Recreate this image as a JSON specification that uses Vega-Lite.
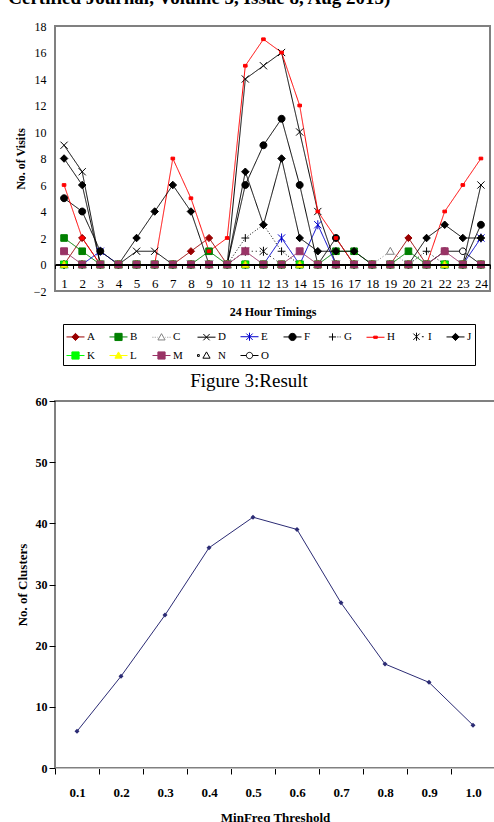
{
 "$schema": "https://vega.github.io/schema/vega-lite/v6.json",
 "background": "white",
 "padding": {"left": 8, "right": 0, "top": -11, "bottom": 0},
 "title": {"text": "Certified Journal, Volume 5, Issue 8, Aug 2015)", "anchor": "start", "font": "Liberation Serif", "fontSize": 19, "fontWeight": "bold", "color": "black", "offset": 11, "dx": -5},
 "config": {"view": {"stroke": "#808080", "strokeWidth": 2}, "font": "Liberation Serif", "axis": {"labelColor": "black", "titleColor": "black", "labelFont": "Liberation Serif", "titleFont": "Liberation Serif"}},
 "spacing": 52,
 "datasets": {
  "visits": [
   {"series":"A","hour":1,"visits":0},{"series":"A","hour":2,"visits":2},{"series":"A","hour":3,"visits":0},{"series":"A","hour":4,"visits":0},{"series":"A","hour":5,"visits":0},{"series":"A","hour":6,"visits":0},{"series":"A","hour":7,"visits":0},{"series":"A","hour":8,"visits":1},{"series":"A","hour":9,"visits":2},{"series":"A","hour":10,"visits":0},{"series":"A","hour":11,"visits":0},{"series":"A","hour":12,"visits":0},{"series":"A","hour":13,"visits":0},{"series":"A","hour":14,"visits":0},{"series":"A","hour":15,"visits":0},{"series":"A","hour":16,"visits":0},{"series":"A","hour":17,"visits":0},{"series":"A","hour":18,"visits":0},{"series":"A","hour":19,"visits":0},{"series":"A","hour":20,"visits":2},{"series":"A","hour":21,"visits":0},{"series":"A","hour":22,"visits":0},{"series":"A","hour":23,"visits":0},{"series":"A","hour":24,"visits":0},
   {"series":"B","hour":1,"visits":2},{"series":"B","hour":2,"visits":1},{"series":"B","hour":3,"visits":0},{"series":"B","hour":4,"visits":0},{"series":"B","hour":5,"visits":0},{"series":"B","hour":6,"visits":0},{"series":"B","hour":7,"visits":0},{"series":"B","hour":8,"visits":0},{"series":"B","hour":9,"visits":1},{"series":"B","hour":10,"visits":0},{"series":"B","hour":11,"visits":0},{"series":"B","hour":12,"visits":0},{"series":"B","hour":13,"visits":0},{"series":"B","hour":14,"visits":0},{"series":"B","hour":15,"visits":0},{"series":"B","hour":16,"visits":1},{"series":"B","hour":17,"visits":1},{"series":"B","hour":18,"visits":0},{"series":"B","hour":19,"visits":0},{"series":"B","hour":20,"visits":1},{"series":"B","hour":21,"visits":0},{"series":"B","hour":22,"visits":0},{"series":"B","hour":23,"visits":0},{"series":"B","hour":24,"visits":0},
   {"series":"C","hour":1,"visits":0},{"series":"C","hour":2,"visits":0},{"series":"C","hour":3,"visits":0},{"series":"C","hour":4,"visits":0},{"series":"C","hour":5,"visits":0},{"series":"C","hour":6,"visits":0},{"series":"C","hour":7,"visits":0},{"series":"C","hour":8,"visits":0},{"series":"C","hour":9,"visits":0},{"series":"C","hour":10,"visits":0},{"series":"C","hour":11,"visits":0},{"series":"C","hour":12,"visits":0},{"series":"C","hour":13,"visits":0},{"series":"C","hour":14,"visits":0},{"series":"C","hour":15,"visits":0},{"series":"C","hour":16,"visits":0},{"series":"C","hour":17,"visits":0},{"series":"C","hour":18,"visits":0},{"series":"C","hour":19,"visits":1},{"series":"C","hour":20,"visits":0},{"series":"C","hour":21,"visits":0},{"series":"C","hour":22,"visits":0},{"series":"C","hour":23,"visits":0},{"series":"C","hour":24,"visits":0},
   {"series":"D","hour":1,"visits":9},{"series":"D","hour":2,"visits":7},{"series":"D","hour":3,"visits":0},{"series":"D","hour":4,"visits":0},{"series":"D","hour":5,"visits":1},{"series":"D","hour":6,"visits":1},{"series":"D","hour":7,"visits":0},{"series":"D","hour":8,"visits":0},{"series":"D","hour":9,"visits":0},{"series":"D","hour":10,"visits":0},{"series":"D","hour":11,"visits":14},{"series":"D","hour":12,"visits":15},{"series":"D","hour":13,"visits":16},{"series":"D","hour":14,"visits":10},{"series":"D","hour":15,"visits":4},{"series":"D","hour":16,"visits":0},{"series":"D","hour":17,"visits":0},{"series":"D","hour":18,"visits":0},{"series":"D","hour":19,"visits":0},{"series":"D","hour":20,"visits":0},{"series":"D","hour":21,"visits":0},{"series":"D","hour":22,"visits":0},{"series":"D","hour":23,"visits":0},{"series":"D","hour":24,"visits":6},
   {"series":"E","hour":1,"visits":0},{"series":"E","hour":2,"visits":0},{"series":"E","hour":3,"visits":1},{"series":"E","hour":4,"visits":0},{"series":"E","hour":5,"visits":0},{"series":"E","hour":6,"visits":0},{"series":"E","hour":7,"visits":0},{"series":"E","hour":8,"visits":0},{"series":"E","hour":9,"visits":0},{"series":"E","hour":10,"visits":0},{"series":"E","hour":11,"visits":0},{"series":"E","hour":12,"visits":0},{"series":"E","hour":13,"visits":2},{"series":"E","hour":14,"visits":0},{"series":"E","hour":15,"visits":3},{"series":"E","hour":16,"visits":0},{"series":"E","hour":17,"visits":0},{"series":"E","hour":18,"visits":0},{"series":"E","hour":19,"visits":0},{"series":"E","hour":20,"visits":0},{"series":"E","hour":21,"visits":0},{"series":"E","hour":22,"visits":0},{"series":"E","hour":23,"visits":0},{"series":"E","hour":24,"visits":2},
   {"series":"F","hour":1,"visits":5},{"series":"F","hour":2,"visits":4},{"series":"F","hour":3,"visits":1},{"series":"F","hour":4,"visits":0},{"series":"F","hour":5,"visits":0},{"series":"F","hour":6,"visits":0},{"series":"F","hour":7,"visits":0},{"series":"F","hour":8,"visits":0},{"series":"F","hour":9,"visits":0},{"series":"F","hour":10,"visits":0},{"series":"F","hour":11,"visits":6},{"series":"F","hour":12,"visits":9},{"series":"F","hour":13,"visits":11},{"series":"F","hour":14,"visits":6},{"series":"F","hour":15,"visits":0},{"series":"F","hour":16,"visits":2},{"series":"F","hour":17,"visits":0},{"series":"F","hour":18,"visits":0},{"series":"F","hour":19,"visits":0},{"series":"F","hour":20,"visits":0},{"series":"F","hour":21,"visits":0},{"series":"F","hour":22,"visits":0},{"series":"F","hour":23,"visits":0},{"series":"F","hour":24,"visits":3},
   {"series":"G","hour":1,"visits":0},{"series":"G","hour":2,"visits":0},{"series":"G","hour":3,"visits":0},{"series":"G","hour":4,"visits":0},{"series":"G","hour":5,"visits":0},{"series":"G","hour":6,"visits":0},{"series":"G","hour":7,"visits":0},{"series":"G","hour":8,"visits":0},{"series":"G","hour":9,"visits":0},{"series":"G","hour":10,"visits":0},{"series":"G","hour":11,"visits":2},{"series":"G","hour":12,"visits":3},{"series":"G","hour":13,"visits":1},{"series":"G","hour":14,"visits":0},{"series":"G","hour":15,"visits":0},{"series":"G","hour":16,"visits":0},{"series":"G","hour":17,"visits":0},{"series":"G","hour":18,"visits":0},{"series":"G","hour":19,"visits":0},{"series":"G","hour":20,"visits":0},{"series":"G","hour":21,"visits":1},{"series":"G","hour":22,"visits":0},{"series":"G","hour":23,"visits":0},{"series":"G","hour":24,"visits":0},
   {"series":"H","hour":1,"visits":6},{"series":"H","hour":2,"visits":2},{"series":"H","hour":3,"visits":0},{"series":"H","hour":4,"visits":0},{"series":"H","hour":5,"visits":0},{"series":"H","hour":6,"visits":0},{"series":"H","hour":7,"visits":8},{"series":"H","hour":8,"visits":5},{"series":"H","hour":9,"visits":1},{"series":"H","hour":10,"visits":2},{"series":"H","hour":11,"visits":15},{"series":"H","hour":12,"visits":17},{"series":"H","hour":13,"visits":16},{"series":"H","hour":14,"visits":12},{"series":"H","hour":15,"visits":4},{"series":"H","hour":16,"visits":2},{"series":"H","hour":17,"visits":0},{"series":"H","hour":18,"visits":0},{"series":"H","hour":19,"visits":0},{"series":"H","hour":20,"visits":0},{"series":"H","hour":21,"visits":0},{"series":"H","hour":22,"visits":4},{"series":"H","hour":23,"visits":6},{"series":"H","hour":24,"visits":8},
   {"series":"I","hour":1,"visits":0},{"series":"I","hour":2,"visits":0},{"series":"I","hour":3,"visits":0},{"series":"I","hour":4,"visits":0},{"series":"I","hour":5,"visits":0},{"series":"I","hour":6,"visits":0},{"series":"I","hour":7,"visits":0},{"series":"I","hour":8,"visits":0},{"series":"I","hour":9,"visits":0},{"series":"I","hour":10,"visits":0},{"series":"I","hour":11,"visits":1},{"series":"I","hour":12,"visits":1},{"series":"I","hour":13,"visits":0},{"series":"I","hour":14,"visits":0},{"series":"I","hour":15,"visits":0},{"series":"I","hour":16,"visits":0},{"series":"I","hour":17,"visits":0},{"series":"I","hour":18,"visits":0},{"series":"I","hour":19,"visits":0},{"series":"I","hour":20,"visits":0},{"series":"I","hour":21,"visits":0},{"series":"I","hour":22,"visits":0},{"series":"I","hour":23,"visits":0},{"series":"I","hour":24,"visits":0},
   {"series":"J","hour":1,"visits":8},{"series":"J","hour":2,"visits":6},{"series":"J","hour":3,"visits":0},{"series":"J","hour":4,"visits":0},{"series":"J","hour":5,"visits":2},{"series":"J","hour":6,"visits":4},{"series":"J","hour":7,"visits":6},{"series":"J","hour":8,"visits":4},{"series":"J","hour":9,"visits":0},{"series":"J","hour":10,"visits":0},{"series":"J","hour":11,"visits":7},{"series":"J","hour":12,"visits":3},{"series":"J","hour":13,"visits":8},{"series":"J","hour":14,"visits":2},{"series":"J","hour":15,"visits":1},{"series":"J","hour":16,"visits":1},{"series":"J","hour":17,"visits":1},{"series":"J","hour":18,"visits":0},{"series":"J","hour":19,"visits":0},{"series":"J","hour":20,"visits":0},{"series":"J","hour":21,"visits":2},{"series":"J","hour":22,"visits":3},{"series":"J","hour":23,"visits":2},{"series":"J","hour":24,"visits":2},
   {"series":"N","hour":1,"visits":0},{"series":"N","hour":2,"visits":0},{"series":"N","hour":3,"visits":0},{"series":"N","hour":4,"visits":0},{"series":"N","hour":5,"visits":0},{"series":"N","hour":6,"visits":0},{"series":"N","hour":7,"visits":0},{"series":"N","hour":8,"visits":0},{"series":"N","hour":9,"visits":0},{"series":"N","hour":10,"visits":0},{"series":"N","hour":11,"visits":0},{"series":"N","hour":12,"visits":0},{"series":"N","hour":13,"visits":0},{"series":"N","hour":14,"visits":0},{"series":"N","hour":15,"visits":0},{"series":"N","hour":16,"visits":0},{"series":"N","hour":17,"visits":0},{"series":"N","hour":18,"visits":0},{"series":"N","hour":19,"visits":0},{"series":"N","hour":20,"visits":0},{"series":"N","hour":21,"visits":0},{"series":"N","hour":22,"visits":0},{"series":"N","hour":23,"visits":0},{"series":"N","hour":24,"visits":0},
   {"series":"O","hour":1,"visits":0},{"series":"O","hour":2,"visits":0},{"series":"O","hour":3,"visits":0},{"series":"O","hour":4,"visits":0},{"series":"O","hour":5,"visits":0},{"series":"O","hour":6,"visits":0},{"series":"O","hour":7,"visits":0},{"series":"O","hour":8,"visits":0},{"series":"O","hour":9,"visits":0},{"series":"O","hour":10,"visits":0},{"series":"O","hour":11,"visits":0},{"series":"O","hour":12,"visits":0},{"series":"O","hour":13,"visits":0},{"series":"O","hour":14,"visits":0},{"series":"O","hour":15,"visits":0},{"series":"O","hour":16,"visits":0},{"series":"O","hour":17,"visits":0},{"series":"O","hour":18,"visits":0},{"series":"O","hour":19,"visits":0},{"series":"O","hour":20,"visits":0},{"series":"O","hour":21,"visits":0},{"series":"O","hour":22,"visits":1},{"series":"O","hour":23,"visits":1},{"series":"O","hour":24,"visits":0},
   {"series":"K","hour":1,"visits":0},{"series":"K","hour":2,"visits":0},{"series":"K","hour":3,"visits":0},{"series":"K","hour":4,"visits":0},{"series":"K","hour":5,"visits":0},{"series":"K","hour":6,"visits":0},{"series":"K","hour":7,"visits":0},{"series":"K","hour":8,"visits":0},{"series":"K","hour":9,"visits":0},{"series":"K","hour":10,"visits":0},{"series":"K","hour":11,"visits":0},{"series":"K","hour":12,"visits":0},{"series":"K","hour":13,"visits":0},{"series":"K","hour":14,"visits":0},{"series":"K","hour":15,"visits":0},{"series":"K","hour":16,"visits":0},{"series":"K","hour":17,"visits":0},{"series":"K","hour":18,"visits":0},{"series":"K","hour":19,"visits":0},{"series":"K","hour":20,"visits":0},{"series":"K","hour":21,"visits":0},{"series":"K","hour":22,"visits":0},{"series":"K","hour":23,"visits":0},{"series":"K","hour":24,"visits":0},
   {"series":"L","hour":1,"visits":0},{"series":"L","hour":2,"visits":0},{"series":"L","hour":3,"visits":0},{"series":"L","hour":4,"visits":0},{"series":"L","hour":5,"visits":0},{"series":"L","hour":6,"visits":0},{"series":"L","hour":7,"visits":0},{"series":"L","hour":8,"visits":0},{"series":"L","hour":9,"visits":0},{"series":"L","hour":10,"visits":0},{"series":"L","hour":11,"visits":0},{"series":"L","hour":12,"visits":0},{"series":"L","hour":13,"visits":0},{"series":"L","hour":14,"visits":0},{"series":"L","hour":15,"visits":0},{"series":"L","hour":16,"visits":0},{"series":"L","hour":17,"visits":0},{"series":"L","hour":18,"visits":0},{"series":"L","hour":19,"visits":0},{"series":"L","hour":20,"visits":0},{"series":"L","hour":21,"visits":0},{"series":"L","hour":22,"visits":0},{"series":"L","hour":23,"visits":0},{"series":"L","hour":24,"visits":0},
   {"series":"M","hour":1,"visits":1},{"series":"M","hour":2,"visits":0},{"series":"M","hour":3,"visits":0},{"series":"M","hour":4,"visits":0},{"series":"M","hour":5,"visits":0},{"series":"M","hour":6,"visits":0},{"series":"M","hour":7,"visits":0},{"series":"M","hour":8,"visits":0},{"series":"M","hour":9,"visits":0},{"series":"M","hour":10,"visits":0},{"series":"M","hour":11,"visits":1},{"series":"M","hour":12,"visits":0},{"series":"M","hour":13,"visits":0},{"series":"M","hour":14,"visits":1},{"series":"M","hour":15,"visits":0},{"series":"M","hour":16,"visits":0},{"series":"M","hour":17,"visits":0},{"series":"M","hour":18,"visits":0},{"series":"M","hour":19,"visits":0},{"series":"M","hour":20,"visits":0},{"series":"M","hour":21,"visits":0},{"series":"M","hour":22,"visits":1},{"series":"M","hour":23,"visits":0},{"series":"M","hour":24,"visits":0}
  ],
  "clusters": [
   {"threshold":"0.1","clusters":6},{"threshold":"0.2","clusters":15},{"threshold":"0.3","clusters":25},{"threshold":"0.4","clusters":36},{"threshold":"0.5","clusters":41},{"threshold":"0.6","clusters":39},{"threshold":"0.7","clusters":27},{"threshold":"0.8","clusters":17},{"threshold":"0.9","clusters":14},{"threshold":"1.0","clusters":7}
  ]
 },
 "vconcat": [
  {
   "width": 435, "height": 265,
   "data": {"name": "visits"},
   "encoding": {
    "x": {"field": "hour", "type": "ordinal", "scale": {"type": "band", "paddingInner": 0, "paddingOuter": 0},
     "axis": {"title": "24 Hour Timings", "offset": -26.5, "labelAngle": 0, "tickBand": "extent", "domainColor": "black", "domainWidth": 2, "tickColor": "black", "tickSize": 4, "labelFontSize": 13, "labelPadding": 9, "titleFontSize": 12, "titleFontWeight": "bold", "titlePadding": 16, "zindex": 1, "grid": false}},
    "y": {"field": "visits", "type": "quantitative", "scale": {"domain": [-2, 18], "nice": false, "zero": false},
     "axis": {"title": "No. of Visits", "values": [-2, 0, 2, 4, 6, 8, 10, 12, 14, 16, 18], "domain": false, "ticks": false, "grid": false, "labelFontSize": 12, "labelPadding": 9, "titleFontSize": 12, "titleFontWeight": "bold", "titlePadding": 6}}
   },
   "layer": [
    {
     "mark": {"type": "line", "strokeWidth": 1},
     "encoding": {
      "color": {"field": "series", "type": "nominal",
       "scale": {"range": ["#990000","#008000","#808080","#000000","#0000CC","#000000","#000000","#FF0000","#000000","#000000","#00FF00","#FFFF00","#993366","#000000","#000000"]},
       "legend": {"orient": "none", "legendX": 8, "legendY": 298, "direction": "horizontal", "columns": 10, "title": null, "strokeColor": "black", "padding": 3, "symbolSize": 324, "symbolStrokeWidth": 1, "symbolType": "stroke", "labelFont": "Liberation Serif", "labelFontSize": 11, "labelColor": "black", "labelOffset": 2, "columnPadding": 12, "rowPadding": 3,
        "encode": {"symbols": {"update": {
         "size": {"value": 324},
         "shape": {"signal": "['M-1,0H1M0,-0.4L0.4,0L0,0.4L-0.4,0Z','M-1,0H1M-0.4,-0.4H0.4V0.4H-0.4Z','M-1,0H-0.9M-0.75,0H-0.65M-0.5,0H-0.45M0.45,0H0.5M0.65,0H0.75M0.9,0H1M0,-0.4L0.4,0.3H-0.4Z','M-1,0H1M-0.35,-0.35L0.35,0.35M-0.35,0.35L0.35,-0.35','M-1,0H1M-0.35,-0.35L0.35,0.35M-0.35,0.35L0.35,-0.35M0,-0.45V0.45','M-1,0H1M0.4,0A0.4,0.4 0 1,1 -0.4,0A0.4,0.4 0 1,1 0.4,0Z','M-0.4,0H0.4M0,-0.4V0.4M0.55,0H0.65M0.8,0H0.9','M-1,0H1M-0.2,-0.12H0.2V0.12H-0.2Z','M-0.35,-0.35L0.35,0.35M-0.35,0.35L0.35,-0.35M0,-0.45V0.45M0.6,0H0.8','M-1,0H1M0,-0.4L0.4,0L0,0.4L-0.4,0Z','M-1,0H1M-0.4,-0.4H0.4V0.4H-0.4Z','M-1,0H1M0,-0.4L0.4,0.3H-0.4Z','M-1,0H1M-0.4,-0.4H0.4V0.4H-0.4Z','M-1,-0.1H-0.8V0.1H-1ZM0,-0.4L0.4,0.3H-0.4Z','M-1,0H-0.35M0.35,0H1M0.35,0A0.35,0.35 0 1,1 -0.35,0A0.35,0.35 0 1,1 0.35,0Z'][indexof(['A','B','C','D','E','F','G','H','I','J','K','L','M','N','O'], datum.value)]"},
         "fill": {"signal": "['#990000','#008000','white','transparent','transparent','black','transparent','#FF0000','transparent','black','#00FF00','#FFFF00','#993366','white','white'][indexof(['A','B','C','D','E','F','G','H','I','J','K','L','M','N','O'], datum.value)]"},
         "stroke": {"signal": "['#990000','#008000','#808080','black','#0000CC','black','black','#FF0000','black','black','#00FF00','#FFFF00','#993366','black','black'][indexof(['A','B','C','D','E','F','G','H','I','J','K','L','M','N','O'], datum.value)]"},
         "strokeWidth": {"value": 1},
         "opacity": {"value": 1}
        }}}
       }},
      "strokeDash": {"field": "series", "type": "nominal", "legend": null,
       "scale": {"domain": ["A","B","C","D","E","F","G","H","I","J","K","L","M","N","O"], "range": [[1,0],[1,0],[1,2],[1,0],[1,0],[1,0],[1,2],[1,0],[1,3],[1,0],[1,0],[1,0],[1,0],[4,3],[1,0]]}}
     }
    },
    {
     "mark": {"type": "point", "filled": true, "opacity": 1, "strokeWidth": 1, "size": 36},
     "encoding": {
      "shape": {"field": "series", "type": "nominal", "legend": null,
       "scale": {"domain": ["A","B","C","D","E","F","G","H","I","J","K","L","M","N","O"], "range": ["M0,-1.2L1.2,0L0,1.2L-1.2,0Z","M-1.1,-1.1H1.1V1.1H-1.1Z","M0,-1.3L1.3,1H-1.3Z","M-1.2,-1.2L1.2,1.2M-1.2,1.2L1.2,-1.2","M-1.2,-1.2L1.2,1.2M-1.2,1.2L1.2,-1.2M0,-1.5V1.5","M1.15,0A1.15,1.15 0 1,1 -1.15,0A1.15,1.15 0 1,1 1.15,0Z","M-1.3,0H1.3M0,-1.3V1.3","M-0.6,-0.45H0.6V0.45H-0.6Z","M-1.2,-1.2L1.2,1.2M-1.2,1.2L1.2,-1.2M0,-1.5V1.5","M0,-1.25L1.25,0L0,1.25L-1.25,0Z","M-1.15,-1.15H1.15V1.15H-1.15Z","M0,-1.3L1.2,1H-1.2Z","M-1.15,-1.15H1.15V1.15H-1.15Z","M0,-1.2L1.2,1H-1.2Z","M1.1,0A1.1,1.1 0 1,1 -1.1,0A1.1,1.1 0 1,1 1.1,0Z"]}},
      "fill": {"field": "series", "type": "nominal", "legend": null,
       "scale": {"domain": ["A","B","C","D","E","F","G","H","I","J","K","L","M","N","O"], "range": ["#990000","#008000","white","transparent","transparent","black","transparent","#FF0000","transparent","black","#00FF00","#FFFF00","#993366","white","white"]}},
      "stroke": {"field": "series", "type": "nominal", "legend": null,
       "scale": {"domain": ["A","B","C","D","E","F","G","H","I","J","K","L","M","N","O"], "range": ["#990000","#008000","#808080","black","#0000CC","black","black","#FF0000","black","black","#00CC00","#CCCC00","#993366","black","black"]}}
     }
    }
   ]
  },
  {
   "width": 440, "height": 367,
   "title": {"text": "Figure 3:Result", "font": "Liberation Serif", "fontSize": 19, "fontWeight": "normal", "color": "black", "anchor": "middle", "dx": -26, "offset": 4},
   "data": {"name": "clusters"},
   "encoding": {
    "x": {"field": "threshold", "type": "ordinal", "scale": {"type": "band", "paddingInner": 0, "paddingOuter": 0},
     "axis": {"title": "MinFreq Threshold", "labelAngle": 0, "tickBand": "extent", "domainColor": "#c0c0c0", "domainWidth": 1, "tickColor": "black", "tickSize": 6, "labelFontSize": 13, "labelFontWeight": "bold", "labelPadding": 12, "titleFontSize": 13, "titleFontWeight": "bold", "titlePadding": 12, "grid": false}},
    "y": {"field": "clusters", "type": "quantitative", "scale": {"domain": [0, 60], "nice": false},
     "axis": {"title": "No. of Clusters", "values": [0, 10, 20, 30, 40, 50, 60], "domain": false, "grid": false, "tickColor": "black", "tickSize": 6, "labelPadding": 2, "labelFontSize": 12, "labelFontWeight": "bold", "titleFontSize": 13, "titleFontWeight": "bold", "titlePadding": 6}}
   },
   "layer": [
    {"mark": {"type": "line", "color": "#2B2B74", "strokeWidth": 1}, "encoding": {}},
    {"mark": {"type": "point", "filled": true, "shape": "diamond", "size": 25, "color": "#2B2B74", "opacity": 1}, "encoding": {}}
   ]
  }
 ]
}
